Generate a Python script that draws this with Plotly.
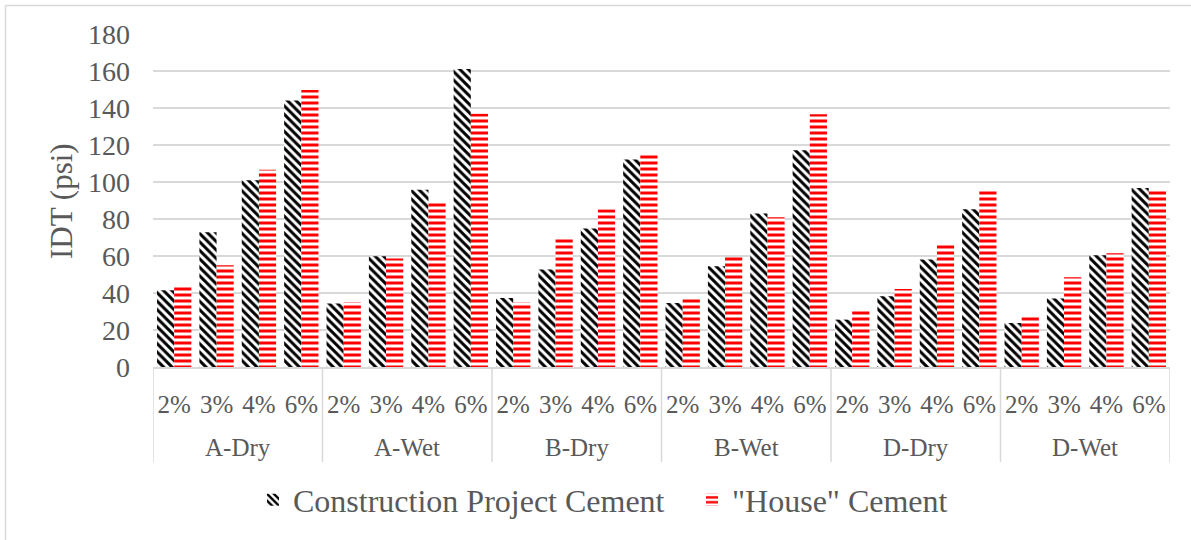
import plotly.graph_objects as go

# Mixes (outer category) and cement contents (inner category)
mixes = ["A-Dry", "A-Wet", "B-Dry", "B-Wet", "D-Dry", "D-Wet"]
contents = ["2%", "3%", "4%", "6%"]

# Indirect tensile strength, psi (one value per mix/content, in order)
construction_cement = [41.5, 72.9, 100.9, 144.1,
                       34.3, 59.9, 95.8, 161.1,
                       37.3, 52.7, 74.9, 112.2,
                       34.6, 54.5, 83.0, 117.1,
                       25.6, 38.3, 58.1, 85.3,
                       23.8, 37.0, 60.4, 96.7]
house_cement = [44.2, 55.0, 106.6, 149.7,
                35.0, 58.6, 89.7, 136.9,
                34.8, 70.2, 85.3, 115.6,
                37.7, 59.4, 81.0, 136.6,
                30.5, 42.2, 65.9, 96.2,
                28.1, 48.5, 61.5, 96.2]

y_ticks = [0, 20, 40, 60, 80, 100, 120, 140, 160, 180]

n_in = len(contents)
slots = list(range(len(mixes) * n_in))          # one slot per mix/content
slot_labels = [c for _ in mixes for c in contents]

W, H = 1191, 540
L, R, T, B = 153, 21, 34, 173
pw, ph = W - L - R, H - T - B


def px_x(p):
    return (p - L) / pw


def px_y(p):
    return (H - B - p) / ph


FONT = "'Times New Roman', 'Liberation Serif', 'DejaVu Serif', serif"
GREY_TXT = "#595959"
GRID = "#d9d9d9"

fig = go.Figure()
fig.add_trace(go.Bar(
    x=slots, y=construction_cement,
    name="Construction Project Cement",
    marker=dict(color="white", line=dict(width=0),
                pattern=dict(shape="\\", fgcolor="black", bgcolor="white",
                             fgopacity=1, size=6, solidity=0.5)),
))
fig.add_trace(go.Bar(
    x=slots, y=house_cement,
    name='"House" Cement',
    marker=dict(color="white", line=dict(width=0),
                pattern=dict(shape="-", fgcolor="#ff0000", bgcolor="white",
                             fgopacity=1, size=6, solidity=0.5)),
))

fig.update_layout(
    width=W, height=H,
    margin=dict(l=L, r=R, t=T, b=B, autoexpand=False),
    paper_bgcolor="white", plot_bgcolor="white",
    barmode="group", bargap=0.19, bargroupgap=0,
    font=dict(family=FONT, color=GREY_TXT),
    showlegend=True,
    legend=dict(orientation="h", x=px_x(253), xanchor="left",
                y=px_y(500), yanchor="middle",
                font=dict(size=32, color=GREY_TXT, family=FONT),
                entrywidth=394, entrywidthmode="pixels",
                bgcolor="rgba(0,0,0,0)"),
    xaxis=dict(range=[-0.5, len(slots) - 0.5], tickvals=slots,
               ticktext=slot_labels, showgrid=False, zeroline=False,
               showline=True, linecolor=GRID, linewidth=1.5,
               tickfont=dict(size=25, color=GREY_TXT, family=FONT),
               ticks="", ticklabelstandoff=14, fixedrange=True),
    yaxis=dict(range=[0, 180], tickvals=y_ticks, showgrid=True,
               gridcolor=GRID, gridwidth=1.5, zeroline=False, showline=False,
               tickfont=dict(size=28, color=GREY_TXT, family=FONT),
               ticklabelstandoff=22, fixedrange=True),
)

# dividers between mixes, running down through both label rows
for k in range(len(mixes) + 1):
    fig.add_shape(type="line", xref="x", yref="paper",
                  x0=k * n_in - 0.5, x1=k * n_in - 0.5,
                  y0=0, y1=px_y(462),
                  line=dict(color=GRID, width=1.5))

# mix names centred under their four bars
for k, m in enumerate(mixes):
    fig.add_annotation(
        text=m, showarrow=False, xref="x", yref="paper",
        x=k * n_in + (n_in - 1) / 2, y=px_y(447),
        xanchor="center", yanchor="middle",
        font=dict(size=25, color=GREY_TXT, family=FONT),
    )

# y-axis title
fig.add_annotation(
    text="IDT (psi)", textangle=-90, showarrow=False,
    xref="paper", yref="paper", x=px_x(61), y=px_y(201),
    xanchor="center", yanchor="middle",
    font=dict(size=31, color=GREY_TXT, family=FONT),
)

# chart frame (left and top edges)
fig.add_shape(type="line", xref="paper", yref="paper",
              x0=px_x(5.5), x1=px_x(5.5), y0=px_y(5.5), y1=px_y(560),
              line=dict(color=GRID, width=1.5))
fig.add_shape(type="line", xref="paper", yref="paper",
              x0=px_x(5.5), x1=px_x(1220), y0=px_y(5.5), y1=px_y(5.5),
              line=dict(color=GRID, width=1.5))

fig.write_html("out.html")
